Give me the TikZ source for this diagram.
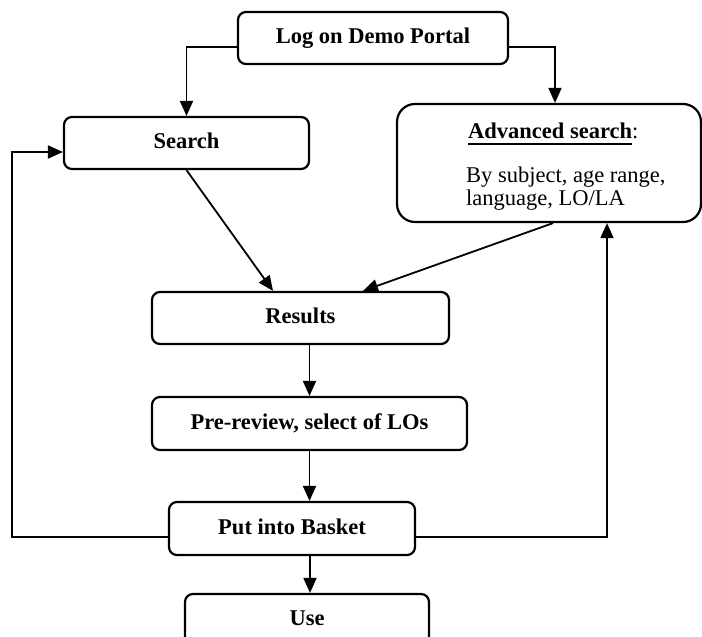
\documentclass[tikz,border=0pt]{standalone}
\usepackage{fontspec}
\setmainfont{Liberation Serif}
\usetikzlibrary{arrows.meta}
\newcommand\myuline[1]{\setbox0\hbox{#1}\rlap{\vrule height -5pt depth 7pt width \wd0}\box0}
\tikzset{
  box/.style={draw, line width=2.2pt, rounded corners=8pt, inner sep=0pt,
    minimum height=52pt, text height=15.5pt, text depth=4.5pt,
    font=\fontsize{22.5}{27}\selectfont\bfseries},
  txt/.style={inner sep=0pt, font=\fontsize{22.5}{23}\selectfont},
  arr/.style={line width=1.8pt, -{Triangle[length=15pt,width=13pt]}},
}
\begin{document}
\begin{tikzpicture}[x=1pt,y=-1pt]
\useasboundingbox (0,0) rectangle (702,637);
\clip (0,0) rectangle (702,637);
\node[box, minimum width=270pt] (log) at (373,38) {Log on Demo Portal};
\node[box, minimum width=245pt] (search) at (186.5,143) {Search};
\node[box, minimum width=304pt, minimum height=118pt, rounded corners=18pt] (adv) at (549,163) {};
\node[txt, anchor=base west] (advt) at (468,138) {\textbf{\myuline{Advanced search}}:};
\node[txt, anchor=base west] (advl1) at (466,182) {By subject, age range,};
\node[txt, anchor=base west] (advl2) at (466,205) {language, LO/LA};
\node[box, minimum width=297pt] (results) at (300.5,318) {Results};
\node[box, minimum width=315pt, minimum height=53pt] (pre) at (309.5,423.5) {Pre-review, select of LOs};
\node[box, minimum width=246pt, minimum height=53pt] (basket) at (292,528.5) {Put into Basket};
\node[box, minimum width=244pt] (use) at (307,620) {Use};
\coordinate (fbL) at (12,152);

\draw[arr] ([yshift=-9pt]log.west) -| (search.north);
\draw[arr] ([yshift=-9pt]log.east) -| ([xshift=6pt]adv.north);
\draw[arr] (search.south) -- ([xshift=-27.5pt]results.north);
\draw[arr] ([xshift=4pt]adv.south) -- ([xshift=62.5pt]results.north);
\draw[arr] (pre.north |- results.south) -- (pre.north);
\draw[arr] (pre.south) -- (pre.south |- basket.north);
\draw[arr] ([xshift=3pt]use.north |- basket.south) -- ([xshift=3pt]use.north);
\draw[arr] ([yshift=-8.5pt]basket.west) -| (fbL) -- ([yshift=-9pt]search.west);
\draw[arr] ([yshift=-8.5pt]basket.east) -| ([xshift=58pt]adv.south);
\end{tikzpicture}
\end{document}
